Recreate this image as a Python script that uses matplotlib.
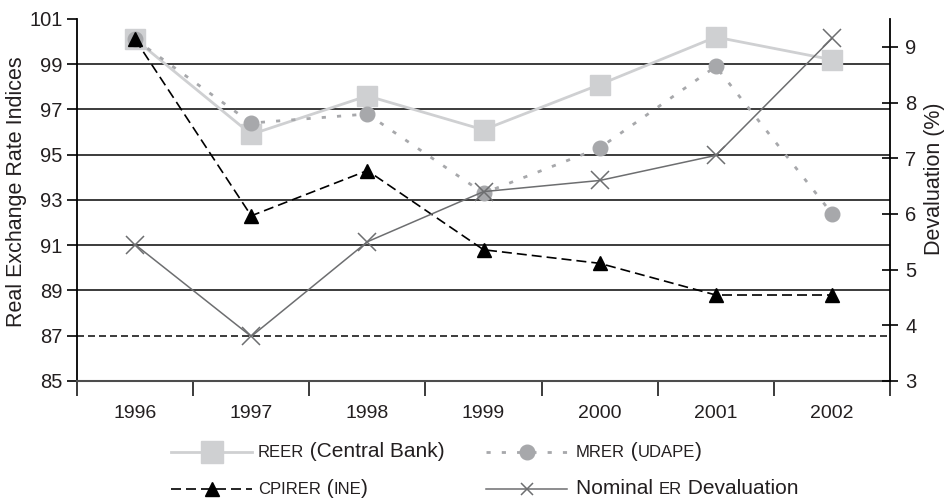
import matplotlib.pyplot as plt
from matplotlib.lines import Line2D

plt.rcParams['font.family'] = ['Liberation Sans', 'DejaVu Sans']

# Dados
anos = ['1996', '1997', '1998', '1999', '2000', '2001', '2002']
reer = [100.1, 95.9, 97.6, 96.1, 98.1, 100.2, 99.2]
mrer = [100.1, 96.4, 96.8, 93.3, 95.3, 98.9, 92.4]
cpirer = [100.1, 92.3, 94.3, 90.8, 90.2, 88.8, 88.8]
desvalorizacao = [5.45, 3.8, 5.5, 6.4, 6.6, 7.05, 9.15]

ticks_esq = [85, 87, 89, 91, 93, 95, 97, 99, 101]
ticks_dir = [3, 4, 5, 6, 7, 8, 9]

cor_texto = '#231f20'
cor_reer = '#cfd0d2'
cor_mrer = '#a7a8ab'
cor_nominal = '#6d6e70'

fig = plt.figure(figsize=(9.44, 4.99), dpi=100)
ax = fig.add_axes([0.0816, 0.2365, 0.8612, 0.7255])
ax2 = ax.twinx()

x = list(range(len(anos)))

# linhas de grade (87 tracejada)
for v in ticks_esq[1:-1]:
    estilo = (0, (4.2, 2.4)) if v == 87 else '-'
    ax.axhline(v, color='#1a1a1a', lw=1.2, ls=estilo, zorder=1)

ax.plot(x, reer, color=cor_reer, lw=2, marker='s', ms=14, mec=cor_reer, zorder=3)
ax.plot(x, mrer, color=cor_mrer, lw=2, ls=(0, (1.5, 4)), marker='o', ms=10.5, mec=cor_mrer, zorder=4)
ax.plot(x, cpirer, color='black', lw=1.2, ls=(0, (6, 3)), marker='^', ms=10, zorder=5)
ax2.plot(x, desvalorizacao, color=cor_nominal, lw=1.1, marker='x', ms=13, mew=1.1, zorder=6)

ax.set_xlim(-0.5, len(anos) - 0.5)
ax.set_ylim(85, 101)
ax2.set_ylim(3, 9.5)

ax.set_xticks(x)
ax.set_xticklabels(anos)
ax.set_xticks([i - 0.5 for i in range(len(anos) + 1)], minor=True)
ax.tick_params(axis='x', which='major', length=0, pad=17, labelsize=14, labelcolor=cor_texto)
ax.tick_params(axis='x', which='minor', length=11, width=1.2, direction='out', color='#1a1a1a')
ax.set_yticks(ticks_esq)
ax.tick_params(axis='y', length=7, width=1.2, pad=3.5, labelsize=14.5, labelcolor=cor_texto)
ax2.set_yticks(ticks_dir)
ax2.tick_params(axis='y', direction='inout', length=12, width=1.2, pad=5, labelsize=14.5, labelcolor=cor_texto)

for s in ['top', 'right']:
    ax.spines[s].set_visible(False)
for s in ['top', 'left', 'bottom']:
    ax2.spines[s].set_visible(False)
ax.spines['left'].set_linewidth(1.3)
ax.spines['bottom'].set_linewidth(1.5)
ax.spines['bottom'].set_color('#4d4d4d')
ax2.spines['right'].set_linewidth(1.3)
ax.spines['left'].set_bounds(85, 101)

ax.set_ylabel('Real Exchange Rate Indices', fontsize=15.5, color=cor_texto)
ax.yaxis.set_label_coords(-0.0615, 0.522)
ax2.set_ylabel('Devaluation (%)', fontsize=15.5, color=cor_texto)
ax2.yaxis.set_label_coords(1.042, 0.559)

# legenda desenhada à mão (versaletes)
W, H = 944, 499
renderer = fig.canvas.get_renderer()


def amostra(x0, x1, y, **kw):
    fy = (H - y) / H
    xm = (x0 + x1) / 2
    fig.add_artist(Line2D([x0 / W, xm / W, x1 / W], [fy, fy, fy], transform=fig.transFigure,
                          markevery=[1], **kw))


def texto_legenda(x0, y, partes):
    # y = linha de base (pixels a partir do topo)
    xp = x0
    for txt, tam in partes:
        t = fig.text(xp / W, (H - y) / H, txt, fontsize=tam, va='baseline', ha='left',
                     color=cor_texto)
        xp = t.get_window_extent(renderer).x1


amostra(171, 252, 452, color=cor_reer, lw=2, marker='s', ms=16, mec=cor_reer)
texto_legenda(258, 457, [('REER', 12), (' (Central Bank)', 15)])
amostra(171, 252, 489, color='black', lw=1.2, ls=(0, (6, 3)), marker='^', ms=10)
texto_legenda(258, 494, [('CPIRER', 12), (' (', 15), ('INE', 12), (')', 15)])
amostra(486, 567, 452, color=cor_mrer, lw=2, ls=(0, (1.5, 4)), marker='o', ms=10.5, mec=cor_mrer)
texto_legenda(576, 457, [('MRER', 12), (' (', 15), ('UDAPE', 12), (')', 15)])
amostra(486, 567, 489, color=cor_nominal, lw=1.1, marker='x', ms=9, mew=1.1)
texto_legenda(576, 494, [('Nominal ', 15), ('ER', 12), (' Devaluation', 15)])

fig.savefig('out.png', dpi=100)
